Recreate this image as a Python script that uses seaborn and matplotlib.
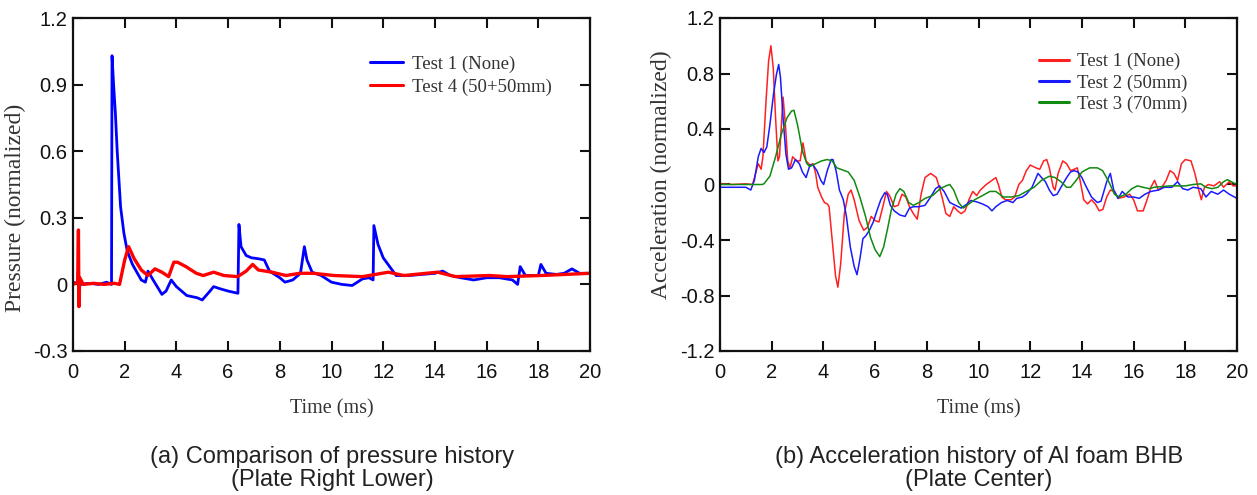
import matplotlib
matplotlib.use("Agg")
import matplotlib.pyplot as plt
import seaborn as sns
import numpy as np
from matplotlib.ticker import FuncFormatter

sns.set_theme(style="ticks")
plt.rcParams['font.family'] = ['Liberation Sans', 'DejaVu Sans']

# (a) pressure, plate right lower
t_p1 = [0, 0.3, 0.6, 1.0, 1.3, 1.49, 1.51, 1.57, 1.64, 1.71, 1.84, 1.97, 2.1, 2.3, 2.64, 2.8,
        2.9, 3.1, 3.44, 3.6, 3.8, 4.0, 4.4, 4.8, 5.0, 5.3, 5.44, 5.7, 6.0, 6.38, 6.42, 6.5,
        6.7, 6.9, 7.2, 7.4, 7.6, 8.0, 8.2, 8.5, 8.8, 8.95, 9.05, 9.25, 9.6, 10.0, 10.4, 10.8,
        11.2, 11.45, 11.61, 11.64, 11.8, 12.0, 12.25, 12.5, 13.0, 13.5, 14.0, 14.3, 14.6, 15.0,
        15.5, 16.0, 16.5, 17.0, 17.2, 17.3, 17.5, 18.0, 18.1, 18.3, 18.7, 19.0, 19.3, 19.6, 20.0]
p_test1 = [0.01, 0.0, 0.005, 0.0, 0.01, 0.0, 1.03, 0.9, 0.77, 0.6, 0.35, 0.23, 0.15, 0.09, 0.02, 0.01,
           0.06, 0.02, -0.045, -0.03, 0.02, -0.01, -0.05, -0.06, -0.07, -0.03, -0.01, -0.02, -0.03, -0.04, 0.27, 0.17,
           0.13, 0.12, 0.115, 0.11, 0.06, 0.03, 0.01, 0.02, 0.05, 0.17, 0.11, 0.055, 0.04, 0.01, 0.0, -0.005,
           0.025, 0.03, 0.02, 0.265, 0.18, 0.12, 0.08, 0.04, 0.04, 0.045, 0.05, 0.06, 0.04, 0.03,
           0.02, 0.03, 0.03, 0.02, 0.0, 0.08, 0.04, 0.04, 0.09, 0.05, 0.045, 0.05, 0.07, 0.05, 0.05]

t_p4 = [0, 0.18, 0.21, 0.23, 0.26, 0.4, 0.8, 1.2, 1.6, 1.8, 2.0, 2.15, 2.37, 2.64, 2.9, 3.17,
        3.44, 3.7, 3.9, 4.04, 4.37, 4.77, 5.04, 5.44, 5.84, 6.37, 6.7, 6.95, 7.17, 7.7, 8.24,
        8.77, 9.3, 10.1, 11.2, 12.2, 12.8, 14.1, 14.8, 16.1, 16.8, 18.1, 20.0]
p_test4 = [0.0, 0.01, 0.245, -0.1, 0.03, 0.0, 0.005, 0.0, 0.005, 0.0, 0.11, 0.17, 0.115, 0.065, 0.04, 0.07,
           0.055, 0.035, 0.1, 0.1, 0.08, 0.05, 0.04, 0.055, 0.04, 0.035, 0.06, 0.09, 0.065, 0.055, 0.04,
           0.05, 0.05, 0.04, 0.035, 0.055, 0.04, 0.055, 0.035, 0.04, 0.035, 0.04, 0.05]

# (b) acceleration, plate center
t_a1 = [0, 0.5, 1.0, 1.26, 1.48, 1.59, 1.66, 1.78, 1.88, 1.97, 2.06, 2.15, 2.24, 2.3, 2.44, 2.53,
        2.62, 2.71, 2.81, 2.96, 3.1, 3.21, 3.33, 3.48, 3.6, 3.7, 3.78, 3.93, 4.04, 4.15, 4.22,
        4.34, 4.47, 4.56, 4.67, 4.81, 4.96, 5.07, 5.19, 5.38, 5.56, 5.7, 5.85, 6.0, 6.15, 6.3,
        6.44, 6.56, 6.74, 6.89, 7.04, 7.19, 7.33, 7.48, 7.63, 7.78, 7.93, 8.15, 8.37, 8.59, 8.74,
        8.89, 9.04, 9.19, 9.33, 9.48, 9.63, 9.78, 9.93, 10.07, 10.3, 10.52, 10.67, 10.77, 10.9,
        11.04, 11.26, 11.4, 11.56, 11.7, 11.85, 12.0, 12.22, 12.37, 12.52, 12.64, 12.74, 12.89,
        12.96, 13.08, 13.26, 13.41, 13.56, 13.7, 13.82, 13.93, 14.07, 14.22, 14.37, 14.52, 14.67,
        14.81, 14.96, 15.1, 15.26, 15.4, 15.63, 15.85, 16.0, 16.15, 16.37, 16.52, 16.67, 16.81,
        16.96, 17.1, 17.26, 17.41, 17.56, 17.7, 17.85, 18.0, 18.22, 18.37, 18.52, 18.62, 18.74,
        18.89, 19.11, 19.33, 19.48, 19.7, 19.85, 20.0]
a_test1 = [0.005, 0.0, 0.005, 0.0, 0.15, 0.11, 0.2, 0.6, 0.89, 1.0, 0.84, 0.48, 0.17, 0.2, 0.63, 0.43,
           0.17, 0.12, 0.2, 0.17, 0.17, 0.3, 0.17, 0.14, 0.15, 0.08, -0.02, -0.09, -0.13, -0.14, -0.16,
           -0.4, -0.66, -0.74, -0.57, -0.21, -0.07, -0.04, -0.11, -0.26, -0.33, -0.31, -0.23, -0.26, -0.27, -0.16,
           -0.05, -0.08, -0.16, -0.15, -0.07, -0.09, -0.16, -0.21, -0.25, -0.07, 0.05, 0.08, 0.05, -0.09, -0.21,
           -0.23, -0.16, -0.19, -0.21, -0.19, -0.11, -0.05, -0.08, -0.04, 0.0, 0.03, 0.05, 0.0, -0.09,
           -0.11, -0.11, -0.09, 0.0, 0.03, 0.1, 0.14, 0.12, 0.11, 0.17, 0.18, 0.12, -0.02,
           -0.04, 0.08, 0.17, 0.15, 0.1, 0.11, 0.12, 0.03, -0.11, -0.14, -0.11, -0.14, -0.19,
           -0.18, -0.09, -0.04, -0.05, -0.1, -0.09, -0.07, -0.11, -0.19, -0.19, -0.11, -0.02, 0.03,
           -0.04, -0.02, 0.03, 0.1, 0.08, 0.03, 0.15, 0.18, 0.17, 0.08, -0.04, -0.11, -0.02,
           0.0, -0.01, 0.02, -0.02, 0.02, -0.01, -0.01]

t_a2 = [0, 0.5, 1.0, 1.19, 1.33, 1.48, 1.59, 1.7, 1.81, 1.93, 2.07, 2.18, 2.27, 2.34, 2.44, 2.55,
        2.65, 2.77, 2.92, 3.07, 3.19, 3.33, 3.48, 3.6, 3.75, 3.9, 4.01, 4.15, 4.3, 4.37, 4.49,
        4.62, 4.77, 4.89, 5.04, 5.19, 5.3, 5.41, 5.53, 5.64, 5.78, 5.93, 6.07, 6.22, 6.37, 6.47,
        6.59, 6.74, 6.96, 7.16, 7.33, 7.48, 7.7, 7.93, 8.15, 8.34, 8.49, 8.67, 8.89, 9.11, 9.33,
        9.56, 9.7, 9.93, 10.15, 10.37, 10.52, 10.67, 10.89, 11.11, 11.33, 11.48, 11.7, 11.85,
        12.07, 12.3, 12.44, 12.59, 12.74, 12.89, 13.04, 13.19, 13.41, 13.56, 13.7, 13.85, 14.0,
        14.15, 14.37, 14.6, 14.74, 14.96, 15.1, 15.23, 15.4, 15.56, 15.78, 16.0, 16.22, 16.44,
        16.67, 16.96, 17.19, 17.48, 17.7, 17.9, 18.1, 18.3, 18.6, 18.8, 19.0, 19.26, 19.48, 19.7, 20.0]
a_test2 = [-0.02, -0.02, -0.02, -0.04, 0.03, 0.2, 0.26, 0.23, 0.27, 0.43, 0.65, 0.79, 0.865, 0.77, 0.48, 0.22,
           0.11, 0.12, 0.18, 0.15, 0.09, 0.05, 0.14, 0.14, 0.1, 0.03, 0.0, 0.1, 0.18, 0.18, 0.1,
           -0.04, -0.11, -0.23, -0.45, -0.59, -0.65, -0.54, -0.39, -0.37, -0.33, -0.27, -0.19, -0.11, -0.06, -0.07,
           -0.15, -0.19, -0.22, -0.23, -0.17, -0.16, -0.16, -0.15, -0.09, -0.03, -0.01, -0.05, -0.13, -0.15, -0.17,
           -0.14, -0.115, -0.125, -0.14, -0.16, -0.19, -0.16, -0.13, -0.115, -0.13, -0.1, -0.09, -0.07,
           -0.02, 0.08, 0.05, 0.02, -0.04, -0.08, -0.07, -0.02, 0.05, 0.09, 0.1, 0.09, 0.05,
           -0.01, -0.09, -0.13, -0.12, 0.02, 0.08, -0.04, -0.1, -0.05, -0.09, -0.09, -0.1, -0.07,
           -0.05, -0.04, -0.02, -0.02, 0.02, -0.03, -0.04, -0.02, -0.03, -0.09, -0.05, -0.07, -0.04, -0.07, -0.1]

t_a3 = [0, 0.8, 1.63, 1.7, 1.93, 2.15, 2.37, 2.59, 2.77, 2.86, 3.0, 3.19, 3.36, 3.48, 3.7, 3.93,
        4.15, 4.34, 4.52, 4.74, 4.96, 5.19, 5.41, 5.63, 5.82, 6.0, 6.18, 6.33, 6.47, 6.62, 6.81,
        6.96, 7.11, 7.3, 7.48, 7.7, 7.93, 8.22, 8.52, 8.74, 8.89, 9.04, 9.23, 9.41, 9.63, 9.85,
        10.15, 10.44, 10.67, 10.96, 11.26, 11.56, 11.85, 12.15, 12.44, 12.74, 12.96, 13.19, 13.41,
        13.56, 13.78, 14.0, 14.3, 14.6, 14.8, 15.04, 15.26, 15.45, 15.7, 15.93, 16.15, 16.37,
        16.6, 16.8, 17.1, 17.4, 17.7, 18.0, 18.3, 18.6, 18.8, 19.04, 19.26, 19.48, 19.63, 19.78, 20.0]
a_test3 = [0.0, 0.0, 0.0, 0.005, 0.06, 0.2, 0.36, 0.48, 0.53, 0.535, 0.43, 0.24, 0.15, 0.13, 0.15, 0.17,
           0.18, 0.17, 0.12, 0.105, 0.09, 0.03, -0.09, -0.23, -0.38, -0.47, -0.52, -0.45, -0.33, -0.19, -0.07,
           -0.03, -0.05, -0.13, -0.15, -0.13, -0.1, -0.08, -0.03, -0.01, 0.0, -0.04, -0.13, -0.17, -0.14, -0.11,
           -0.08, -0.05, -0.05, -0.09, -0.09, -0.08, -0.05, -0.02, 0.03, 0.06, 0.05, 0.02, -0.02,
           -0.02, 0.03, 0.09, 0.12, 0.12, 0.1, 0.02, -0.07, -0.09, -0.07, -0.03, -0.01, -0.02,
           -0.03, -0.02, -0.015, -0.01, -0.01, -0.01, 0.0, 0.005, -0.02, -0.03, -0.02, 0.02, 0.035, 0.02, 0.0]

W, H = 1257, 495
fig = plt.figure(figsize=(W / 100, H / 100), dpi=100)
ax1 = fig.add_axes([73 / W, 1 - 351 / H, 517 / W, 333 / H])
ax2 = fig.add_axes([720 / W, 1 - 351 / H, 517 / W, 333 / H])

serif = ['Liberation Serif', 'DejaVu Serif']

sns.lineplot(x=t_p1, y=p_test1, ax=ax1, color='#0000ff', lw=2.0, sort=False, estimator=None, label='Test 1 (None)')
sns.lineplot(x=t_p4, y=p_test4, ax=ax1, color='#ff0000', lw=2.4, sort=False, estimator=None, label='Test 4 (50+50mm)')

sns.lineplot(x=t_a1, y=a_test1, ax=ax2, color='#ff2020', lw=1.1, sort=False, estimator=None, label='Test 1 (None)')
sns.lineplot(x=t_a2, y=a_test2, ax=ax2, color='#1a1aff', lw=1.1, sort=False, estimator=None, label='Test 2 (50mm)')
sns.lineplot(x=t_a3, y=a_test3, ax=ax2, color='#108a10', lw=1.1, sort=False, estimator=None, label='Test 3 (70mm)')

fmt = FuncFormatter(lambda v, p: '%g' % round(v, 2))
for ax, lo, hi, step, lab in [(ax1, -0.3, 1.2, 0.3, 'Pressure (normalized)'),
                              (ax2, -1.2, 1.2, 0.4, 'Acceleration (normalized)')]:
    ax.set_xlim(0, 20)
    ax.set_ylim(lo, hi)
    ax.set_xticks(np.arange(0, 21, 2))
    ax.set_yticks(np.arange(lo, hi + step / 2, step))
    ax.xaxis.set_major_formatter(fmt)
    ax.yaxis.set_major_formatter(fmt)
    ax.tick_params(direction='in', length=7, width=1.5, top=True, right=True,
                   labelsize=14.5, colors='#111111')
    ax.tick_params(axis='x', pad=9)
    ax.tick_params(axis='y', pad=4)
    for s in ax.spines.values():
        s.set_linewidth(1.6)
        s.set_color('#111111')
    ax.set_xlabel('Time (ms)', family=serif, fontsize=14.5, color='#333333')
    ax.set_ylabel(lab, family=serif, fontsize=17, color='#333333')
    ax.xaxis.set_label_coords(0.5, -0.145)

ax1.yaxis.set_label_coords(-0.09, 0.43)
ax2.yaxis.set_label_coords(-0.092, 0.53)

leg1 = ax1.legend(loc='upper left', bbox_to_anchor=(0.56, 0.909), frameon=False,
                  prop={'family': serif, 'size': 13.5}, handlelength=1.75,
                  handletextpad=0.5, labelspacing=0.3, borderaxespad=0)
leg2 = ax2.legend(loc='upper left', bbox_to_anchor=(0.602, 0.917), frameon=False,
                  prop={'family': serif, 'size': 13.5}, handlelength=1.6,
                  handletextpad=0.45, labelspacing=0.2, borderaxespad=0)
for leg in (leg1, leg2):
    for txt in leg.get_texts():
        txt.set_color('#333333')
    for ln in leg.get_lines():
        ln.set_linewidth(2.2)

cap = dict(ha='center', va='center', fontsize=17, color='#222222')
fig.text(332 / W, 1 - 457 / H, '(a) Comparison of pressure history', **cap)
fig.text(332 / W, 1 - 480 / H, '(Plate Right Lower)', **cap)
fig.text(979 / W, 1 - 457 / H, '(b) Acceleration history of Al foam BHB', **cap)
fig.text(979 / W, 1 - 480 / H, '(Plate Center)', **cap)

fig.savefig('out.png', dpi=100, facecolor='white')
